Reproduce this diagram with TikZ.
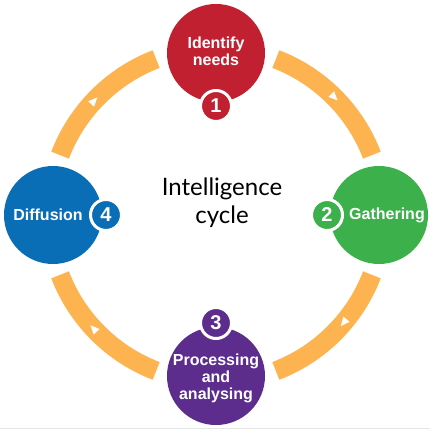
\documentclass[tikz,border=0pt]{standalone}
\usepackage{fontspec}
\setmainfont{Liberation Sans}
\newfontfamily\titlefont{Lato}
\usetikzlibrary{positioning}
\definecolor{cycred}{RGB}{192,32,48}
\definecolor{cycgreen}{RGB}{60,176,74}
\definecolor{cycblue}{RGB}{10,110,182}
\definecolor{cycpurple}{RGB}{92,45,140}
\definecolor{cycorange}{RGB}{253,180,80}

\begin{document}
\begin{tikzpicture}[x=1pt,y=1pt,
    bigdisc/.style={circle,fill=#1,minimum size=98pt,inner sep=0pt},
    numdisc/.style={circle,fill=#1,draw=white,line width=3pt,minimum size=31pt,inner sep=0pt,text=white,font=\bfseries\fontsize{20}{20}\selectfont},
    phase/.style={text=white,align=center,font=\bfseries\fontsize{16}{17}\selectfont},
    band/.style={cycorange,line width=19pt}]
    \useasboundingbox (-216,-216) rectangle (214,215);
    \draw[gray!20,line width=1pt] (-216,-213)--(214,-213);
    % orange ring, cut at the four discs
    \foreach \a in {21,111,201,291}
        \draw[band] (\a:167) arc[start angle=\a, end angle=\a+48, radius=167];
    \foreach \a in {45,137,223,320}
        \fill[white,rotate=\a] (167,-5)--(163,4)--(171,4)--cycle;
    % big discs
    \node[bigdisc=cycred] (needs) at (90:162){};
    \node[bigdisc=cycgreen] (gather) at (0:163){};
    \node[bigdisc=cycpurple] (process) at (270:161){};
    \node[bigdisc=cycblue] (diffuse) at (180:163){};
    % numbers
    \node[numdisc=cycred] (n1) at (90:109){1};
    \node[numdisc=cycgreen] (n2) at (0:111){2};
    \node[numdisc=cycpurple] (n3) at (270:108){3};
    \node[numdisc=cycblue] (n4) at (180:110){4};
    % labels
    \node[phase] (needstxt) at ([yshift=2pt]needs){Identify\\needs};
    \node[phase,xshift=8pt] (gathertxt) at (gather){Gathering};
    \node[phase,xshift=-5pt] (diffusetxt) at (diffuse){Diffusion};
    \node[phase,yshift=-2pt] (processtxt) at (process){Processing\\and\\analysing};
    \node[align=center,font=\titlefont\fontsize{24}{28}\selectfont] (title) at (6,12){Intelligence\\cycle};
\end{tikzpicture}
\end{document}
